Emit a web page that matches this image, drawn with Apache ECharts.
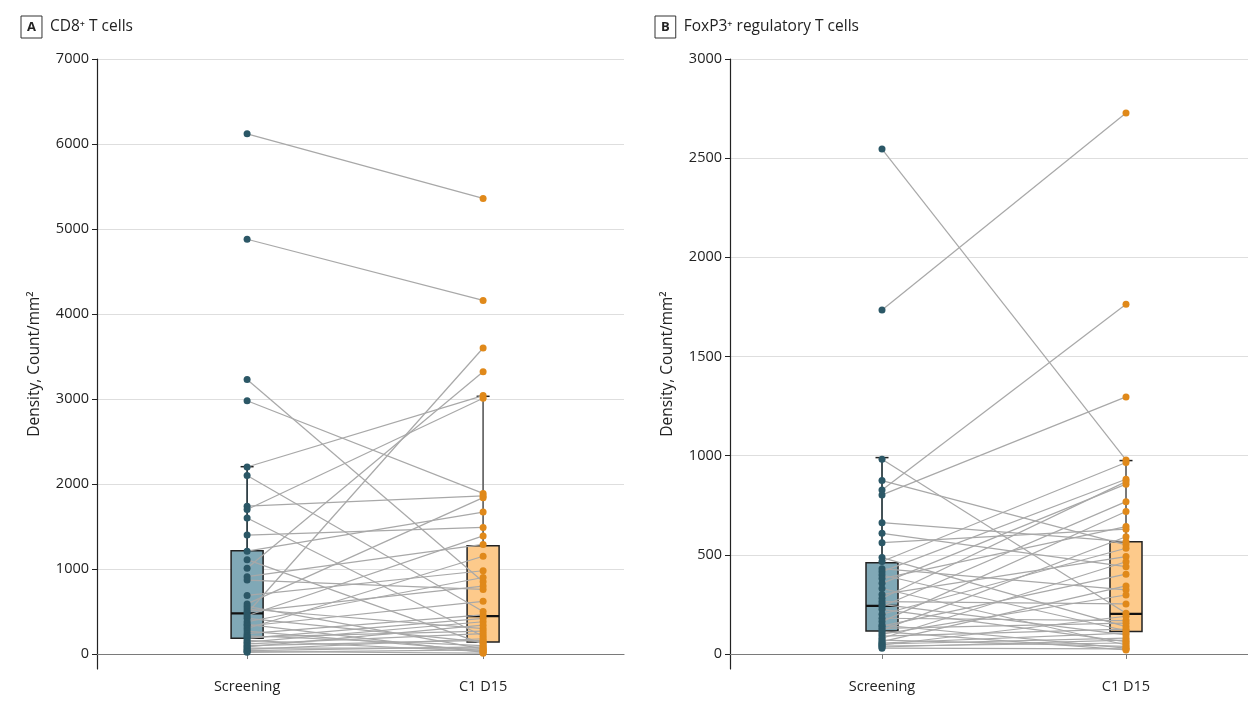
<!DOCTYPE html>
<html>
<head>
<meta charset="utf-8">
<script src="https://cdn.jsdelivr.net/npm/echarts@6/dist/echarts.min.js"></script>
<style>html,body{margin:0;padding:0;background:#fff}#c{width:1248px;height:711px}</style>
</head>
<body>
<div id="c"></div>
<script>
// ---------- data ----------
const timepoints = ['Screening', 'C1 D15'];
// Panel A: CD8+ T cells, paired per patient
const cd8Screening = [6120,4880,3230,2980,2200,2100,1740,1700,1600,1400,1210,1110,1010,910,870,690,590,560,530,500,480,450,420,380,350,330,300,270,240,215,200,185,160,140,120,100,85,70,55,40,30,20];
const cd8C1D15     = [5360,4160,850,1890,3040,500,1860,3010,210,1490,1670,120,3320,1290,760,980,1840,60,300,800,3600,1390,140,900,20,620,1150,40,460,100,270,420,30,380,240,160,340,70,180,85,10,50];
// box stats: [lower whisker, Q1, median, Q3, upper whisker]
const cd8BoxScreening = [20, 185, 479, 1215, 2204];
const cd8BoxC1D15     = [10, 141, 447, 1274, 3032];
const cd8Ticks = [0,1000,2000,3000,4000,5000,6000,7000];

// Panel B: FoxP3+ regulatory T cells
const foxScreening = [2546,1734,982,874,827,802,662,608,561,486,466,430,415,398,380,356,330,300,281,264,250,239,225,200,180,163,146,140,129,120,112,100,90,79,70,62,55,50,45,40,35,29];
const foxC1D15     = [978,2728,205,550,1763,1296,566,440,629,138,965,323,881,117,642,856,45,491,869,252,96,768,62,533,168,718,29,402,155,591,20,297,125,465,38,343,105,80,190,55,70,25];
const foxBoxScreening = [29, 116, 242, 460, 990];
const foxBoxC1D15     = [20, 113, 202, 566, 975];
const foxTicks = [0,500,1000,1500,2000,2500,3000];

// ---------- styles ----------
const FONT = '"Open Sans", "Noto Sans", sans-serif';
const dotColors = ['#2b5766', '#e0891a'];
const boxFills = ['#80a8b6', '#fdca8b'];
const whiskerColors = ['#2f3f45', '#6b6b6b'];

function boxSeries(gi, boxes) {
  return {
    type: 'custom', xAxisIndex: gi, yAxisIndex: gi, z: 2,
    encode: { x: 0, y: [1,2,3,4,5] },
    data: boxes.map((b, i) => [i + 1].concat(b)),
    renderItem(params, api) {
      const i = params.dataIndex;
      const x = api.value(0);
      const lo = api.coord([x, api.value(1)]);
      const q1 = api.coord([x, api.value(2)]);
      const md = api.coord([x, api.value(3)]);
      const q3 = api.coord([x, api.value(4)]);
      const hi = api.coord([x, api.value(5)]);
      const hw = 16, cw = 6.5;
      return { type: 'group', children: [
        { type: 'line', shape: { x1: hi[0], y1: hi[1], x2: hi[0], y2: q3[1] }, style: { stroke: whiskerColors[i], lineWidth: 1.8 } },
        { type: 'line', shape: { x1: lo[0], y1: lo[1], x2: lo[0], y2: q1[1] }, style: { stroke: whiskerColors[i], lineWidth: 1.8 } },
        { type: 'line', shape: { x1: hi[0] - cw, y1: hi[1], x2: hi[0] + cw, y2: hi[1] }, style: { stroke: '#222', lineWidth: 1.5 } },
        { type: 'rect', shape: { x: q3[0] - hw, y: q3[1], width: hw * 2, height: q1[1] - q3[1] }, style: { fill: boxFills[i], stroke: '#222', lineWidth: 1.5 } },
        { type: 'line', shape: { x1: md[0] - hw, y1: md[1], x2: md[0] + hw, y2: md[1] }, style: { stroke: '#111', lineWidth: 2.2 } }
      ]};
    }
  };
}
function pairSeries(gi, a, b) {
  return {
    type: 'custom', xAxisIndex: gi, yAxisIndex: gi, z: 3,
    encode: { x: [0, 2], y: [1, 3] },
    data: a.map((v, i) => [1, v, 2, b[i]]),
    renderItem(params, api) {
      const p1 = api.coord([api.value(0), api.value(1)]);
      const p2 = api.coord([api.value(2), api.value(3)]);
      return { type: 'line', shape: { x1: p1[0], y1: p1[1], x2: p2[0], y2: p2[1] }, style: { stroke: '#a8a8a8', lineWidth: 1.2 } };
    }
  };
}
function dotSeries(gi, vals, xi) {
  return {
    type: 'scatter', xAxisIndex: gi, yAxisIndex: gi, z: 4,
    symbolSize: 7, itemStyle: { color: dotColors[xi - 1], opacity: 1 },
    data: vals.map(v => [xi, v]), silent: true
  };
}
function xAxis(gi, min, max) {
  return {
    type: 'value', gridIndex: gi, min: min, max: max,
    splitLine: { show: false },
    axisLine: { lineStyle: { color: '#7a7a7a', width: 1.2 } },
    axisTick: { customValues: [1, 2], length: 5, lineStyle: { color: '#7a7a7a' } },
    axisLabel: { customValues: [1, 2], formatter: v => timepoints[Math.round(v) - 1], color: '#222', fontSize: 14.5, fontFamily: FONT, margin: 10 }
  };
}
function yAxis(gi, min, max, ticks) {
  return {
    type: 'value', gridIndex: gi, min: min, max: max,
    name: 'Density, Count/mm²', nameLocation: 'middle', nameRotate: 90, nameGap: 54,
    nameTextStyle: { color: '#222', fontSize: 15.5, fontFamily: FONT },
    axisLine: { show: true, lineStyle: { color: '#222', width: 1.2 } },
    axisTick: { show: true, customValues: ticks, length: 5, lineStyle: { color: '#222' } },
    axisLabel: { customValues: ticks, formatter: v => String(v), color: '#222', fontSize: 14.5, fontFamily: FONT, margin: 8 },
    splitLine: { show: true, lineStyle: { color: '#dedede', width: 1.2 } }
  };
}
function titleOpt(left, letter, text) {
  return {
    left: left, top: 11,
    text: '{b|' + letter + '}{t|' + text + '}',
    textStyle: { fontWeight: 'normal', rich: {
      b: { fontFamily: FONT, fontWeight: 'bold', fontSize: 13, color: '#222', borderColor: '#333', borderWidth: 1, padding: [5, 6, 4, 6] },
      t: { fontFamily: FONT, fontWeight: 'normal', fontSize: 15.5, color: '#222', padding: [0, 0, 0, 8] }
    }}
  };
}

const chart = echarts.init(document.getElementById('c'));
chart.setOption({
  animation: false,
  backgroundColor: '#fff',
  title: [titleOpt(16, 'A', 'CD8⁺ T cells'), titleOpt(650, 'B', 'FoxP3⁺ regulatory T cells')],
  grid: [
    { left: 97, right: 624, top: 59, bottom: 42 },
    { left: 730, right: 0, top: 59, bottom: 42 }
  ],
  xAxis: [xAxis(0, 0.364, 2.597), xAxis(1, 0.377, 2.5)],
  yAxis: [yAxis(0, -176, 7000, cd8Ticks), yAxis(1, -76, 3000, foxTicks)],
  series: [
    boxSeries(0, [cd8BoxScreening, cd8BoxC1D15]),
    pairSeries(0, cd8Screening, cd8C1D15),
    dotSeries(0, cd8Screening, 1),
    dotSeries(0, cd8C1D15, 2),
    boxSeries(1, [foxBoxScreening, foxBoxC1D15]),
    pairSeries(1, foxScreening, foxC1D15),
    dotSeries(1, foxScreening, 1),
    dotSeries(1, foxC1D15, 2)
  ]
});
</script>
</body>
</html>
